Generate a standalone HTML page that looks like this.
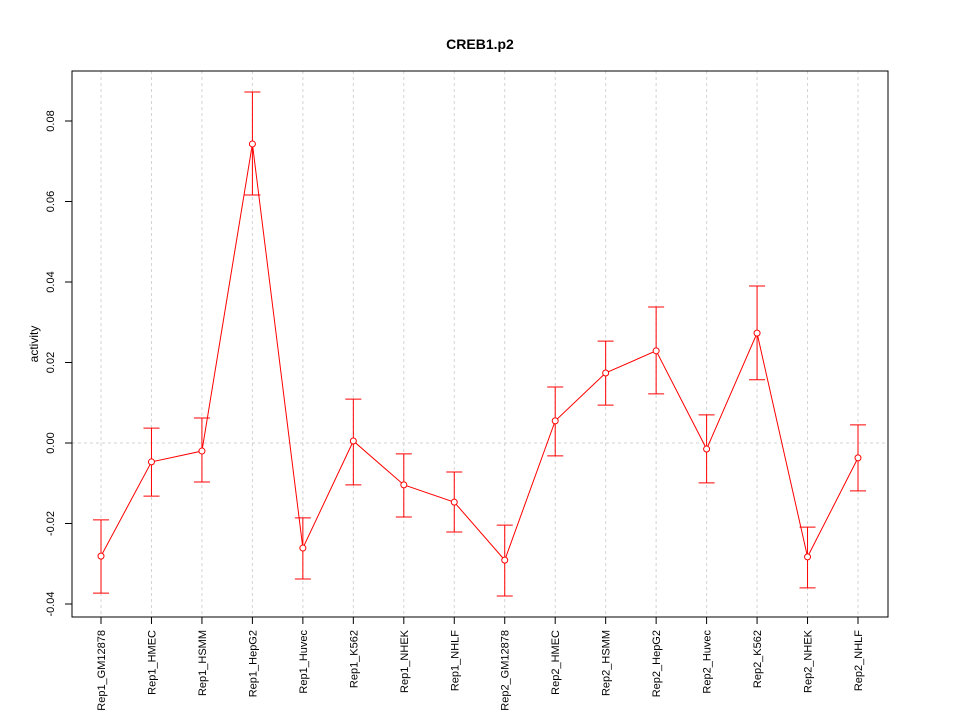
<!DOCTYPE html>
<html><head><meta charset="utf-8"><style>
body{margin:0;background:#fff}
svg{display:block;font-family:"Liberation Sans",Arial,sans-serif}
</style></head><body>
<svg id="chart" width="960" height="720" viewBox="0 0 960 720">
<rect width="960" height="720" fill="#fff"/>
<text x="480" y="49" text-anchor="middle" font-size="14" font-weight="bold">CREB1.p2</text>
<text x="0" y="0" transform="translate(38,344) rotate(-90)" text-anchor="middle" font-size="12">activity</text>
<g id="grid"></g><g id="axes"></g><g id="marks"></g>
<rect x="72" y="71" width="816" height="546" fill="none" stroke="#000"/>
</svg>
<script>
const categories=["Rep1_GM12878","Rep1_HMEC","Rep1_HSMM","Rep1_HepG2","Rep1_Huvec","Rep1_K562","Rep1_NHEK","Rep1_NHLF","Rep2_GM12878","Rep2_HMEC","Rep2_HSMM","Rep2_HepG2","Rep2_Huvec","Rep2_K562","Rep2_NHEK","Rep2_NHLF"];
const values=[-0.0281,-0.0047,-0.0020,0.0743,-0.0261,0.0005,-0.0104,-0.0147,-0.0291,0.0055,0.0174,0.0229,-0.0015,0.0273,-0.0283,-0.0037];
const upper=[-0.0191,0.0037,0.0062,0.0872,-0.0186,0.0109,-0.0027,-0.0072,-0.0204,0.0139,0.0253,0.0338,0.0070,0.0390,-0.0209,0.0045];
const lower=[-0.0373,-0.0132,-0.0097,0.0616,-0.0338,-0.0104,-0.0184,-0.0221,-0.0380,-0.0032,0.0094,0.0122,-0.0099,0.0157,-0.0360,-0.0119];
const yTicks=[-0.04,-0.02,0.00,0.02,0.04,0.06,0.08];
const yTickLabels=["-0.04","-0.02","0.00","0.02","0.04","0.06","0.08"];
const NS="http://www.w3.org/2000/svg";
const x=i=>101+i*(858-101)/(categories.length-1);
const y=v=>443-v*4025;
function mk(tag,attrs,parent){const e=document.createElementNS(NS,tag);for(const k in attrs)e.setAttribute(k,attrs[k]);parent.appendChild(e);return e;}
const grid=document.getElementById('grid'),axes=document.getElementById('axes'),marks=document.getElementById('marks');
categories.forEach((c,i)=>{
 const g=mk('line',{x1:x(i),x2:x(i),y1:71,y2:617,stroke:'#d3d3d3','stroke-dasharray':'3,3'},grid);
 
 
 const t=mk('line',{x1:x(i),x2:x(i),y1:617,y2:624,stroke:'#000'},axes);
 
 
 const l=mk('text',{transform:`translate(${x(i)+4},630) rotate(-90)`,'text-anchor':'end','font-size':11},axes);
 l.textContent=c;
 
 
});
const z=mk('line',{x1:72,x2:888,y1:y(0),y2:y(0),stroke:'#d3d3d3','stroke-dasharray':'3,3'},grid);


yTicks.forEach((v,i)=>{
 const t=mk('line',{x1:65,x2:72,y1:y(v),y2:y(v),stroke:'#000'},axes);
 
 
 const l=mk('text',{transform:`translate(54,${y(v)}) rotate(-90)`,'text-anchor':'middle','font-size':11},axes);
 l.textContent=yTickLabels[i];
 
 
});
const ln=mk('polyline',{points:values.map((v,i)=>x(i)+','+y(v)).join(' '),fill:'none',stroke:'#f00'},marks);


values.forEach((v,i)=>{
 const e=mk('path',{d:`M${x(i)},${y(upper[i])}V${y(lower[i])}M${x(i)-8},${y(upper[i])}H${x(i)+8}M${x(i)-8},${y(lower[i])}H${x(i)+8}`,stroke:'#f00',fill:'none'},marks);
 
 
 const p=mk('circle',{cx:x(i),cy:y(v),r:3,fill:'#fff',stroke:'#f00'},marks);
 
 
});
</script>
</body></html>
